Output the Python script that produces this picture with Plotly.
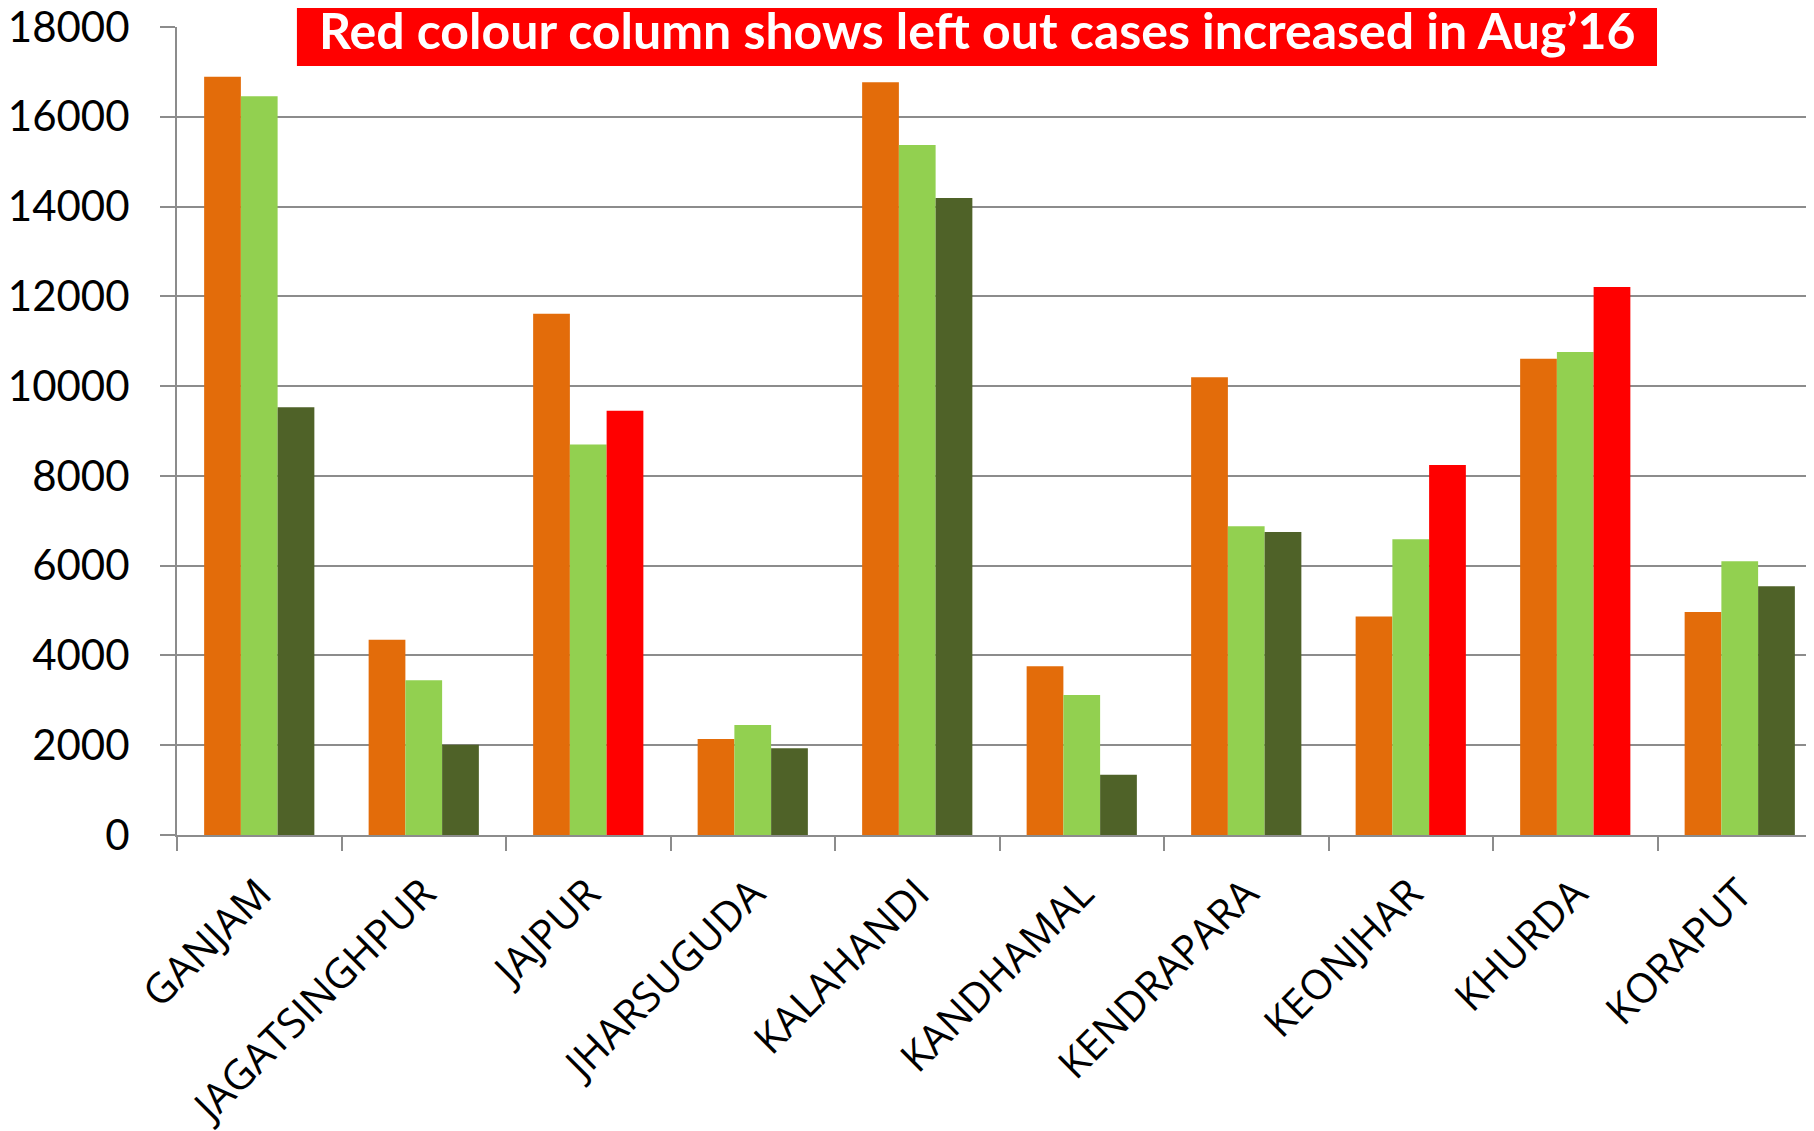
import plotly.graph_objects as go

districts = ["GANJAM", "JAGATSINGHPUR", "JAJPUR", "JHARSUGUDA", "KALAHANDI",
             "KANDHAMAL", "KENDRAPARA", "KEONJHAR", "KHURDA", "KORAPUT"]
series1 = [16890, 4350, 11610, 2140, 16770, 3760, 10200, 4870, 10610, 4970]
series2 = [16460, 3450, 8700, 2450, 15370, 3120, 6880, 6590, 10760, 6100]
series3 = [9530, 2010, 9450, 1930, 14190, 1340, 6750, 8240, 12210, 5540]
increased = [False, False, True, False, False, False, False, True, True, False]

title_text = "Red colour column shows left out cases increased in Aug\u201916"

ORANGE = "#E36C0A"
LIGHT = "#92D050"
DARK = "#4F6228"
RED = "#FF0000"

fig = go.Figure()
fig.add_trace(go.Bar(x=districts, y=series1, marker=dict(color=ORANGE, line=dict(width=0))))
fig.add_trace(go.Bar(x=districts, y=series2, marker=dict(color=LIGHT, line=dict(width=0))))
fig.add_trace(go.Bar(x=districts, y=series3,
                     marker=dict(color=[RED if f else DARK for f in increased], line=dict(width=0))))

fig.update_layout(
    width=1814, height=1131,
    barmode="group", bargap=0.33, bargroupgap=0,
    showlegend=False,
    plot_bgcolor="white", paper_bgcolor="white",
    margin=dict(l=169, r=0, t=19, b=304, autoexpand=False),
    font=dict(family="Open Sans", color="black"),
)
fig.update_yaxes(
    range=[0, 18000], dtick=2000, tickformat="d", automargin=False,
    ticklabeloverflow="allow",
    showgrid=True, gridcolor="#8C8C8C", gridwidth=2,
    showline=True, linecolor="#8C8C8C", linewidth=2,
    ticks="outside", ticklen=15, tickwidth=2, tickcolor="#8C8C8C",
    tickfont=dict(family="Lato", size=42, color="black"), ticklabelstandoff=22,
    zeroline=False,
)
fig.update_xaxes(
    automargin=False,
    showline=True, linecolor="#8C8C8C", linewidth=2,
    ticks="outside", ticklen=14, tickwidth=2, tickcolor="#8C8C8C", tickson="boundaries",
    tickangle=-45, tickfont=dict(family="Open Sans", size=41, color="black"),
    ticklabelstandoff=16,
)
# red title banner (decoration, placed in paper coordinates)
fig.add_shape(
    type="rect", xref="paper", yref="paper",
    x0=0.0729, x1=0.8997, y0=0.9517, y1=1.04,
    fillcolor=RED, line=dict(width=0), layer="above",
)
fig.add_annotation(
    text="<b>" + title_text + "</b>", xref="paper", yref="paper",
    x=0.4863, y=1, yanchor="middle", xanchor="center", yshift=-3,
    showarrow=False,
    font=dict(family="Lato", size=50, color="white"),
)
fig.write_html("out.html")
